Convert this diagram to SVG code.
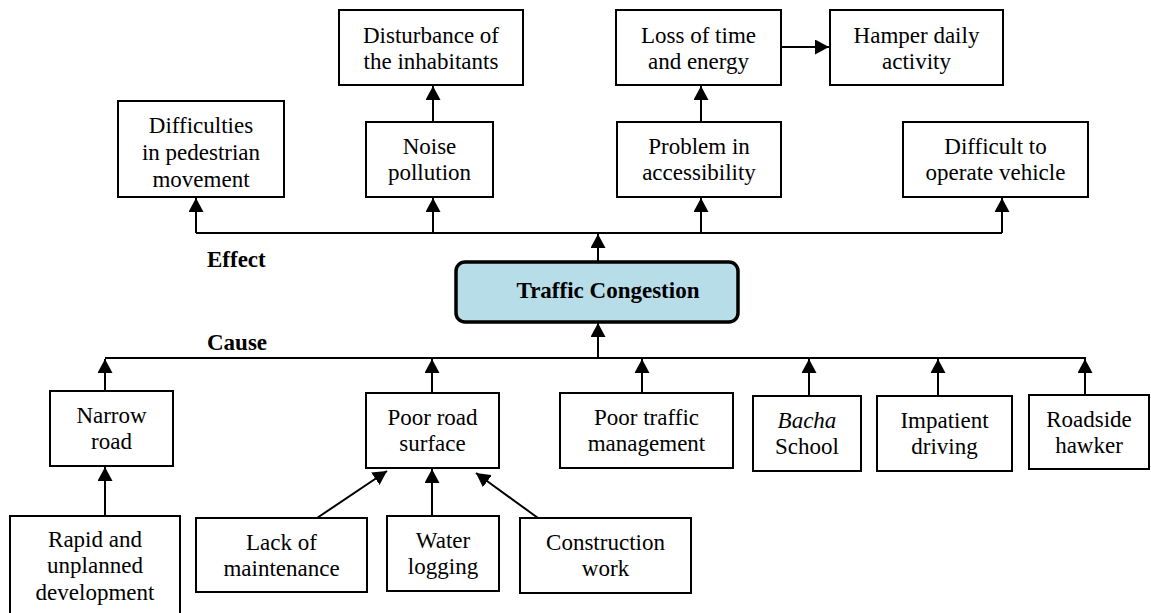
<svg xmlns="http://www.w3.org/2000/svg" width="1151" height="613" viewBox="0 0 1151 613">
  <style>
    .box { fill: #ffffff; stroke: #000000; stroke-width: 2; }
    .core { fill: #b7dde8; stroke: #000000; stroke-width: 3.5; }
    .t { font-family: "Liberation Serif", "Times New Roman", serif; font-size: 23px; fill: #000000; text-anchor: middle; }
    .b { font-weight: bold; }
    .lbl { font-family: "Liberation Serif", "Times New Roman", serif; font-size: 23px; font-weight: bold; fill: #000000; }
    .c { fill: none; stroke: #000000; stroke-width: 2; }
    .a { marker-end: url(#head); }
  </style>
  <defs>
    <marker id="head" markerUnits="userSpaceOnUse" markerWidth="15" markerHeight="15" refX="14" refY="7.5" orient="auto">
      <path d="M0,0 L14,7.5 L0,15 Z" fill="#000000"/>
    </marker>
  </defs>

  <rect width="1151" height="613" fill="#ffffff"/>

  <!-- connectors -->
  <g id="connectors">
    <!-- effect bus -->
    <path class="c" d="M196,233 H1002"/>
    <path class="c a" d="M598,262 V234"/>
    <path class="c a" d="M196,233 V198"/>
    <path class="c a" d="M433,233 V198"/>
    <path class="c a" d="M701,233 V198"/>
    <path class="c a" d="M1002,233 V198"/>
    <path class="c a" d="M433,122 V86"/>
    <path class="c a" d="M701,122 V86"/>
    <path class="c a" d="M781,47 H829"/>
    <!-- cause bus -->
    <path class="c" d="M105,358 H1086"/>
    <path class="c a" d="M598,358 V323"/>
    <path class="c a" d="M105,391 V359"/>
    <path class="c a" d="M432,393 V359"/>
    <path class="c a" d="M642,393 V359"/>
    <path class="c a" d="M809,396 V359"/>
    <path class="c a" d="M938,396 V359"/>
    <path class="c a" d="M1085,395 V359"/>
    <!-- sub-causes -->
    <path class="c a" d="M105,516 V467"/>
    <path class="c a" d="M317,518 L387,471"/>
    <path class="c a" d="M432,516 V469"/>
    <path class="c a" d="M538,518 L476,473"/>
  </g>

  <!-- labels -->
  <text class="lbl" x="207" y="267">Effect</text>
  <text class="lbl" x="207" y="350">Cause</text>

  <!-- central node -->
  <g id="traffic-congestion">
    <rect class="core" x="456" y="262" width="282" height="60" rx="9"/>
    <text class="t b" x="608" y="298">Traffic Congestion</text>
  </g>

  <!-- effects -->
  <g id="difficulties-pedestrian">
    <rect class="box" x="118" y="101" width="166" height="96"/>
    <text class="t" x="201" y="133">Difficulties</text>
    <text class="t" x="201" y="160">in pedestrian</text>
    <text class="t" x="201" y="187">movement</text>
  </g>
  <g id="disturbance">
    <rect class="box" x="339" y="10" width="184" height="75"/>
    <text class="t" x="431" y="43">Disturbance of</text>
    <text class="t" x="431" y="69">the inhabitants</text>
  </g>
  <g id="noise-pollution">
    <rect class="box" x="366" y="122" width="127" height="75"/>
    <text class="t" x="429.5" y="154">Noise</text>
    <text class="t" x="429.5" y="180">pollution</text>
  </g>
  <g id="loss-time-energy">
    <rect class="box" x="616" y="10" width="165" height="75"/>
    <text class="t" x="698.5" y="43">Loss of time</text>
    <text class="t" x="698.5" y="69">and energy</text>
  </g>
  <g id="hamper-daily-activity">
    <rect class="box" x="830" y="10" width="173" height="75"/>
    <text class="t" x="916.5" y="43">Hamper daily</text>
    <text class="t" x="916.5" y="69">activity</text>
  </g>
  <g id="problem-accessibility">
    <rect class="box" x="617" y="122" width="164" height="75"/>
    <text class="t" x="699" y="154">Problem in</text>
    <text class="t" x="699" y="180">accessibility</text>
  </g>
  <g id="difficult-operate-vehicle">
    <rect class="box" x="903" y="122" width="185" height="75"/>
    <text class="t" x="995.5" y="154">Difficult to</text>
    <text class="t" x="995.5" y="180">operate vehicle</text>
  </g>

  <!-- causes -->
  <g id="narrow-road">
    <rect class="box" x="50" y="391" width="123" height="75"/>
    <text class="t" x="111.5" y="423">Narrow</text>
    <text class="t" x="111.5" y="449">road</text>
  </g>
  <g id="poor-road-surface">
    <rect class="box" x="366" y="393" width="133" height="75"/>
    <text class="t" x="432.5" y="425">Poor road</text>
    <text class="t" x="432.5" y="451">surface</text>
  </g>
  <g id="poor-traffic-management">
    <rect class="box" x="560" y="393" width="173" height="75"/>
    <text class="t" x="646.5" y="425">Poor traffic</text>
    <text class="t" x="646.5" y="451">management</text>
  </g>
  <g id="bacha-school">
    <rect class="box" x="753" y="396" width="108" height="75"/>
    <text class="t" x="807" y="428" font-style="italic">Bacha</text>
    <text class="t" x="807" y="454">School</text>
  </g>
  <g id="impatient-driving">
    <rect class="box" x="877" y="396" width="135" height="75"/>
    <text class="t" x="944.5" y="428">Impatient</text>
    <text class="t" x="944.5" y="454">driving</text>
  </g>
  <g id="roadside-hawker">
    <rect class="box" x="1029" y="395" width="120" height="74"/>
    <text class="t" x="1089" y="427">Roadside</text>
    <text class="t" x="1089" y="453">hawker</text>
  </g>

  <!-- sub-causes -->
  <g id="rapid-unplanned-development">
    <rect class="box" x="10" y="516" width="170" height="110"/>
    <text class="t" x="95" y="547">Rapid and</text>
    <text class="t" x="95" y="573">unplanned</text>
    <text class="t" x="95" y="600">development</text>
  </g>
  <g id="lack-of-maintenance">
    <rect class="box" x="196" y="518" width="171" height="74"/>
    <text class="t" x="281.5" y="550">Lack of</text>
    <text class="t" x="281.5" y="576">maintenance</text>
  </g>
  <g id="water-logging">
    <rect class="box" x="387" y="516" width="112" height="75"/>
    <text class="t" x="443" y="548">Water</text>
    <text class="t" x="443" y="574">logging</text>
  </g>
  <g id="construction-work">
    <rect class="box" x="520" y="518" width="171" height="75"/>
    <text class="t" x="605.5" y="550">Construction</text>
    <text class="t" x="605.5" y="576">work</text>
  </g>
</svg>
